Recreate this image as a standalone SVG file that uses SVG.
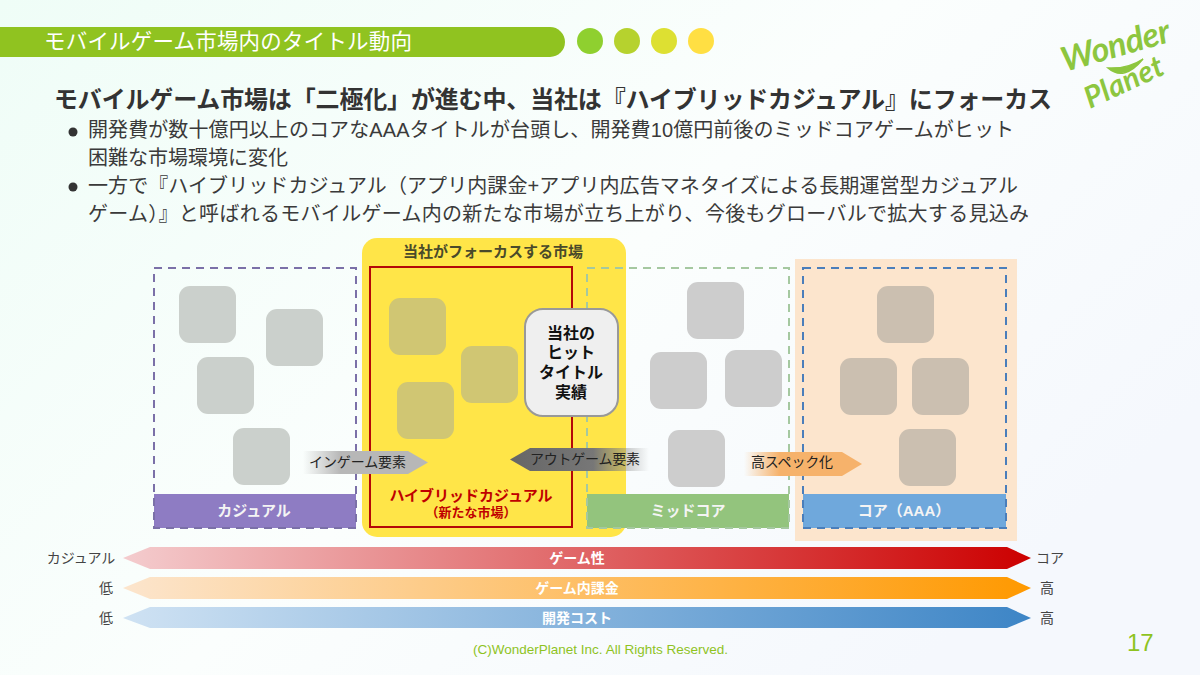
<svg xmlns="http://www.w3.org/2000/svg" width="1200" height="675" viewBox="0 0 1200 675">
<style>
text{font-family:"Liberation Sans","Noto Sans CJK JP",sans-serif}
.b{font-weight:700}
.body{font-size:20px;fill:#3a3a3a}
.c{fill:#cbd0cc}.h{fill:#d0c673}.m{fill:#cdcdcd}.o{fill:#cbbfb0}
.lab{font-size:15px;font-weight:700;fill:#f4f4f4;text-anchor:middle}
.bar{font-size:14px;font-weight:700;fill:#fff;text-anchor:middle}
.end{font-size:14px;fill:#444;text-anchor:middle}
.tag{font-size:14px;fill:#222}
.dash{fill:none;stroke-width:2;stroke-dasharray:8 6}
</style>
<defs>
<linearGradient id="bg" x1="0" y1="0" x2="1" y2="0.6"><stop offset="0" stop-color="#effdf7"/><stop offset="0.55" stop-color="#fbfefd"/><stop offset="1" stop-color="#f5f8fd"/></linearGradient>
<linearGradient id="g1"><stop offset="0" stop-color="#f4ccce"/><stop offset="1" stop-color="#cc0000"/></linearGradient>
<linearGradient id="g2"><stop offset="0" stop-color="#fce5cd"/><stop offset="1" stop-color="#ff9900"/></linearGradient>
<linearGradient id="g3"><stop offset="0" stop-color="#cfe2f3"/><stop offset="1" stop-color="#3d85c6"/></linearGradient>
<linearGradient id="ga1"><stop offset="0" stop-color="#b7b7b7" stop-opacity="0"/><stop offset="0.3" stop-color="#b7b7b7"/><stop offset="1" stop-color="#b7b7b7"/></linearGradient>
<linearGradient id="ga2"><stop offset="0" stop-color="#666"/><stop offset="0.6" stop-color="#777"/><stop offset="1" stop-color="#888" stop-opacity="0"/></linearGradient>
<linearGradient id="ga3"><stop offset="0" stop-color="#f6b26b" stop-opacity="0"/><stop offset="0.3" stop-color="#f6b26b"/><stop offset="1" stop-color="#f6b26b"/></linearGradient>
</defs>
<rect id="background" width="1200" height="675" fill="url(#bg)"/>

<g id="header">
<path d="M0 27H550a15 15 0 0 1 0 30H0Z" fill="#90c320"/>
<text x="44" y="49" font-size="21.500" fill="#fff" textLength="368">モバイルゲーム市場内のタイトル動向</text>
<circle cx="590" cy="41" r="13" fill="#8fd02f"/><circle cx="627" cy="41" r="13" fill="#b6d22e"/><circle cx="664" cy="41" r="13" fill="#dde032"/><circle cx="701" cy="41" r="13" fill="#ffdf43"/>
</g>
<g id="logo" fill="#8dc63f">
<text transform="translate(1065 72) rotate(-16)" font-size="34" font-weight="700" font-style="italic" textLength="112" style="font-family:'Lato',sans-serif">Wonder</text>
<text transform="translate(1090 109) rotate(-25)" font-size="30" font-weight="700" font-style="italic" textLength="84" style="font-family:'Lato',sans-serif">Planet</text>
<path d="M1108 68Q1124 82 1143 59Q1128 69 1108 68Z" stroke="#8dc63f" stroke-width="1.500"/>
</g>
<g id="message">
<text x="54" y="108" class="b" font-size="24" fill="#333" textLength="998">モバイルゲーム市場は「二極化」が進む中、当社は『ハイブリッドカジュアル』にフォーカス</text>
<circle cx="73" cy="132" r="4.500" fill="#333"/><circle cx="73" cy="187" r="4.500" fill="#333"/>
<text x="88" y="137" class="body" textLength="926">開発費が数十億円以上のコアなAAAタイトルが台頭し、開発費10億円前後のミッドコアゲームがヒット</text>
<text x="88" y="165" class="body" textLength="200">困難な市場環境に変化</text>
<text x="88" y="193" class="body" textLength="930">一方で『ハイブリッドカジュアル（アプリ内課金+アプリ内広告マネタイズによる長期運営型カジュアル</text>
<text x="88" y="221" class="body" textLength="941">ゲーム）』と呼ばれるモバイルゲーム内の新たな市場が立ち上がり、今後もグローバルで拡大する見込み</text>
</g>

<g id="focus-area">
<rect x="362" y="238" width="264" height="299" rx="15" fill="#ffe548"/>
<text x="493" y="257" font-size="15" class="b" fill="#4a4a2a" text-anchor="middle">当社がフォーカスする市場</text>
</g>
<rect id="core-bg" x="795" y="259" width="222" height="282" fill="#fce5cd"/>

<g id="casual">
<rect x="179" y="286" width="57" height="57" rx="11" class="c"/><rect x="266" y="309" width="57" height="57" rx="11" class="c"/><rect x="197" y="357" width="57" height="57" rx="11" class="c"/><rect x="233" y="428" width="57" height="57" rx="11" class="c"/>
<rect x="154" y="494" width="202" height="34" fill="#8e7cc3"/>
<rect x="154" y="268" width="202" height="260" class="dash" stroke="#7b70a8"/>
<text x="254" y="516" class="lab">カジュアル</text>
</g>
<g id="hybrid">
<rect x="389" y="298" width="57" height="57" rx="11" class="h"/><rect x="461" y="346" width="57" height="57" rx="11" class="h"/><rect x="397" y="382" width="57" height="57" rx="11" class="h"/>
<rect x="370" y="267" width="202" height="260" fill="none" stroke="#b40808" stroke-width="2"/>
<text x="471" y="501" font-size="15" class="b" fill="#c00000" text-anchor="middle">ハイブリッドカジュアル</text>
<text x="471" y="517" font-size="13" class="b" fill="#c00000" text-anchor="middle">（新たな市場）</text>
</g>
<g id="midcore">
<rect x="687" y="282" width="57" height="57" rx="11" class="m"/><rect x="650" y="352" width="57" height="57" rx="11" class="m"/><rect x="725" y="350" width="57" height="57" rx="11" class="m"/><rect x="668" y="430" width="57" height="57" rx="11" class="m"/>
<rect x="587" y="494" width="202" height="34" fill="#93c47d"/>
<rect x="587" y="268" width="202" height="260" class="dash" stroke="#a5c8a0"/>
<text x="688" y="516" class="lab">ミッドコア</text>
</g>
<g id="core">
<rect x="877" y="286" width="57" height="57" rx="11" class="o"/><rect x="840" y="358" width="57" height="57" rx="11" class="o"/><rect x="912" y="358" width="57" height="57" rx="11" class="o"/><rect x="899" y="429" width="57" height="57" rx="11" class="o"/>
<rect x="803" y="494" width="203" height="34" fill="#6fa8dc"/>
<rect x="803" y="268" width="203" height="260" class="dash" stroke="#4a7ebb"/>
<text x="904" y="516" class="lab">コア（AAA）</text>
</g>
<g id="hit-titles">
<rect x="525" y="309" width="93" height="107" rx="18" fill="#efefef" stroke="#999" stroke-width="2"/>
<g font-size="16" class="b" fill="#111" text-anchor="middle">
<text x="571" y="339">当社の</text><text x="571" y="358">ヒット</text><text x="571" y="378">タイトル</text><text x="571" y="398">実績</text>
</g>
</g>

<g id="connectors">
<path d="M303 451H408L428 462.500L408 474H303Z" fill="url(#ga1)"/>
<path d="M649 448H530L510 459.500L530 471H649Z" fill="url(#ga2)"/>
<path d="M744 452H842L862 464L842 476H744Z" fill="url(#ga3)"/>
<path d="M123 558L150 547H1007L1031 558L1007 569H150Z" fill="url(#g1)"/>
<path d="M123 588L150 577H1007L1031 588L1007 599H150Z" fill="url(#g2)"/>
<path d="M123 618L150 607H1007L1031 618L1007 628H150Z" fill="url(#g3)"/>
<text x="309" y="467" class="tag" textLength="97">インゲーム要素</text>
<text x="530" y="464" class="tag" textLength="110">アウトゲーム要素</text>
<text x="751" y="467" class="tag" textLength="82">高スペック化</text>
<text x="577" y="563" class="bar">ゲーム性</text>
<text x="577" y="593" class="bar">ゲーム内課金</text>
<text x="577" y="623" class="bar">開発コスト</text>
<text x="81" y="563" class="end">カジュアル</text><text x="106" y="593" class="end">低</text><text x="106" y="623" class="end">低</text>
<text x="1050" y="563" class="end">コア</text><text x="1047" y="593" class="end">高</text><text x="1047" y="623" class="end">高</text>
</g>
<g id="footer">
<text x="473" y="654" font-size="13.500" fill="#8fc31f" textLength="255">(C)WonderPlanet Inc.  All Rights Reserved.</text>
<text x="1127" y="651" font-size="24" fill="#8fc31f">17</text>
</g>
</svg>
